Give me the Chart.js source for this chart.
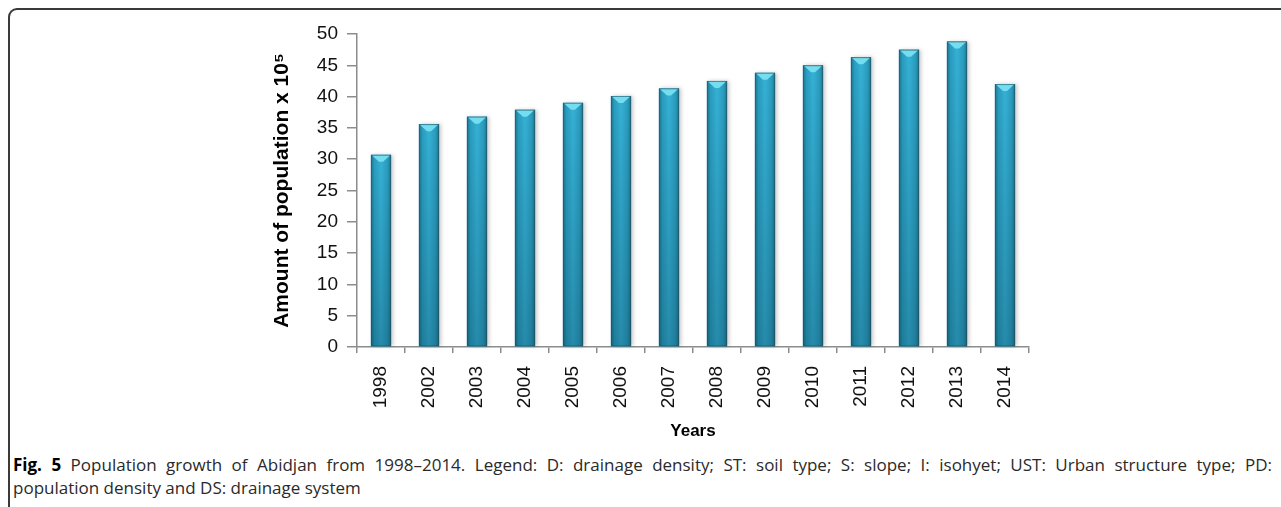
<!DOCTYPE html>
<html>
<head>
<meta charset="utf-8">
<script src="https://cdn.jsdelivr.net/npm/chart.js@4.4.1/dist/chart.umd.min.js"></script>
<style>
    html, body { margin: 0; padding: 0; background: #fff; }
    body { width: 1281px; height: 507px; position: relative; overflow: hidden; }
    #frame {
        position: absolute; left: 8px; top: 8px; width: 1320px; height: 560px;
        border: 2px solid #3a3a3a; border-radius: 9px; box-sizing: border-box;
    }
    #wrap { position: absolute; left: 0; top: 0; width: 1281px; height: 448px; }
    #cap {
        position: absolute; left: 13px; top: 453px; width: 1259px;
        font-family: 'Open Sans', sans-serif; font-size: 17px; line-height: 23px; color: #2a2a2a;
    }
    #cap .l1 { text-align: justify; text-align-last: justify; white-space: nowrap; }
    #cap b { color: #000; }
</style>
</head>
<body>
<div id="frame"></div>
<div id="wrap"><canvas id="c" width="1281" height="448"></canvas></div>
<div id="cap">
    <div class="l1"><b>Fig. 5</b> Population growth of Abidjan from 1998–2014. Legend: D: drainage density; ST: soil type; S: slope; I: isohyet; UST: Urban structure type; PD:</div>
    <div>population density and DS: drainage system</div>
</div>
<script>
// data (population x 10^5)
const years = ['1998', '2002', '2003', '2004', '2005', '2006', '2007', '2008', '2009', '2010', '2011', '2012', '2013', '2014'];
const population = [30.7, 35.6, 36.8, 37.9, 39.0, 40.1, 41.3, 42.5, 43.8, 45.0, 46.3, 47.5, 48.8, 42.0];
const yMin = 0;
const yMax = 50;
const yStep = 5;

const axisGrey = '#8c8c8c';
const tickFont = { family: "'Liberation Sans', Arial, sans-serif", size: 19 };

// glossy cylinder-ish bars, drawn over the library's bar rects
const glossyBars = {
    id: 'glossyBars',
    afterDatasetsDraw(chart) {
        const { ctx } = chart;
        const meta = chart.getDatasetMeta(0);
        meta.data.forEach((el) => {
            const { x, y, base, width } = el.getProps(['x', 'y', 'base', 'width'], true);
            const l = x - width / 2;
            const h = base - y;
            ctx.save();
            ctx.shadowColor = 'rgba(0,0,0,0.22)';
            ctx.shadowBlur = 4;
            ctx.shadowOffsetX = 2;
            const g = ctx.createLinearGradient(l, 0, l + width, 0);
            g.addColorStop(0, '#1c7590');
            g.addColorStop(0.18, '#2a9dbf');
            g.addColorStop(0.5, '#35b2d6');
            g.addColorStop(0.82, '#2a9dbf');
            g.addColorStop(1, '#1c7590');
            ctx.fillStyle = g;
            ctx.fillRect(l, y, width, h);
            ctx.restore();

            ctx.save();
            const v = ctx.createLinearGradient(0, y, 0, base);
            v.addColorStop(0, 'rgba(0,40,60,0)');
            v.addColorStop(1, 'rgba(0,40,60,0.28)');
            ctx.fillStyle = v;
            ctx.fillRect(l, y, width, h);

            // bevelled top
            ctx.beginPath();
            ctx.moveTo(l + 1, y + 0.5);
            ctx.lineTo(l + width - 1, y + 0.5);
            ctx.lineTo(x + 2, y + 7);
            ctx.lineTo(x - 2, y + 7);
            ctx.closePath();
            ctx.fillStyle = '#74def0';
            ctx.fill();

            ctx.strokeStyle = 'rgba(40,70,80,0.45)';
            ctx.lineWidth = 1;
            ctx.strokeRect(l + 0.5, y + 0.5, width - 1, h - 1);
            ctx.restore();
        });
    },
};

new Chart(document.getElementById('c').getContext('2d'), {
    type: 'bar',
    data: {
        labels: years,
        datasets: [
            {
                label: 'Population',
                data: population,
                backgroundColor: '#2ba3c5',
                barPercentage: 0.42,
                categoryPercentage: 1,
            },
        ],
    },
    options: {
        responsive: false,
        animation: false,
        devicePixelRatio: 1,
        layout: { padding: { top: 34, right: 252, bottom: 0, left: 270 } },
        plugins: {
            legend: { display: false },
            tooltip: { enabled: false },
        },
        scales: {
            x: {
                offset: true,
                afterFit(s) { s.height = 101; },
                grid: {
                    display: true,
                    offset: true,
                    drawOnChartArea: false,
                    drawTicks: true,
                    tickLength: 6,
                    color: axisGrey,
                    lineWidth: 1.5,
                },
                border: { display: true, color: axisGrey, width: 1.5 },
                ticks: {
                    color: '#111',
                    font: tickFont,
                    minRotation: 90,
                    maxRotation: 90,
                    autoSkip: false,
                    padding: 13,
                },
                title: {
                    display: true,
                    text: 'Years',
                    color: '#000',
                    font: { family: "'Liberation Sans', Arial, sans-serif", size: 17, weight: 'bold' },
                    padding: { top: 0, bottom: 6 },
                },
            },
            y: {
                min: yMin,
                max: yMax,
                afterFit(s) { s.width = 87; },
                grid: {
                    display: true,
                    drawOnChartArea: false,
                    drawTicks: true,
                    tickLength: 10,
                    color: axisGrey,
                    lineWidth: 1.5,
                },
                border: { display: true, color: axisGrey, width: 1.5 },
                ticks: {
                    stepSize: yStep,
                    color: '#111',
                    font: tickFont,
                    padding: 9,
                },
                title: {
                    display: true,
                    text: 'Amount of population x 10⁵',
                    color: '#000',
                    font: { family: "'Liberation Sans', Arial, sans-serif", size: 21, weight: 'bold' },
                    padding: { top: 0, bottom: 0 },
                },
            },
        },
    },
    plugins: [glossyBars],
});
</script>
</body>
</html>
